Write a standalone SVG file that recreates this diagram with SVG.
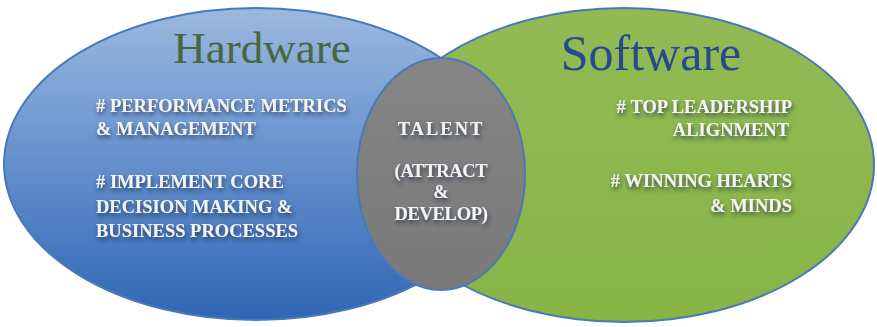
<svg xmlns="http://www.w3.org/2000/svg" width="877" height="327" viewBox="0 0 877 327">
<defs>
<linearGradient id="gBlue" x1="0" y1="0" x2="0" y2="1">
<stop offset="0" stop-color="#9bb9e0"/>
<stop offset="0.45" stop-color="#6a93cf"/>
<stop offset="1" stop-color="#2f66b4"/>
</linearGradient>
<linearGradient id="gGreen" x1="0" y1="0" x2="0" y2="1">
<stop offset="0" stop-color="#93ba55"/>
<stop offset="1" stop-color="#88b446"/>
</linearGradient>
<linearGradient id="gGray" x1="0" y1="0" x2="0" y2="1">
<stop offset="0" stop-color="#858585"/>
<stop offset="1" stop-color="#797979"/>
</linearGradient>
<filter id="sh" x="-10%" y="-30%" width="120%" height="170%">
<feDropShadow dx="1" dy="3" stdDeviation="2.2" flood-color="#1a2a40" flood-opacity="0.75"/>
</filter>
</defs>
<style>
.ell{stroke:#4a78b8;stroke-width:2}
.t{font-family:"Liberation Serif","DejaVu Serif",serif;font-weight:bold;fill:#f4f4f4;font-size:18.5px;filter:url(#sh)}
.c{text-anchor:middle}
.r{text-anchor:end}
.title{font-family:"Liberation Serif","DejaVu Serif",serif;text-anchor:middle}
</style>
<g id="hardware">
<ellipse class="ell" cx="256" cy="164" rx="252" ry="156" fill="url(#gBlue)"/>
<text class="title" x="262" y="63" font-size="45" fill="#46683a">Hardware</text>
<text class="t" x="96" y="112">#&#160;PERFORMANCE METRICS</text>
<text class="t" x="96" y="135">&amp;&#160;MANAGEMENT</text>
<text class="t" x="96" y="188">#&#160;IMPLEMENT CORE</text>
<text class="t" x="96" y="213">DECISION MAKING &amp;</text>
<text class="t" x="96" y="237">BUSINESS PROCESSES</text>
</g>
<g id="software">
<ellipse class="ell" cx="624" cy="165" rx="250" ry="157" fill="url(#gGreen)"/>
<text class="title" x="651" y="70" font-size="50" fill="#27498f">Software</text>
<text class="t r" x="792" y="113">#&#160;TOP LEADERSHIP</text>
<text class="t r" x="789" y="136">ALIGNMENT</text>
<text class="t r" x="792" y="187">#&#160;WINNING HEARTS</text>
<text class="t r" x="792" y="212">&amp;&#160;MINDS</text>
</g>
<g id="talent">
<ellipse class="ell" cx="441" cy="174" rx="84" ry="116" fill="url(#gGray)"/>
<text class="t c" x="441" y="135" font-size="20.5" letter-spacing="2">TALENT</text>
<text class="t c" x="441" y="177" font-size="16" letter-spacing="-0.3">(ATTRACT</text>
<text class="t c" x="441" y="198" font-size="16">&amp;</text>
<text class="t c" x="441" y="220" font-size="16" letter-spacing="-0.3">DEVELOP)</text>
</g>
<g id="connectors"></g>
</svg>
